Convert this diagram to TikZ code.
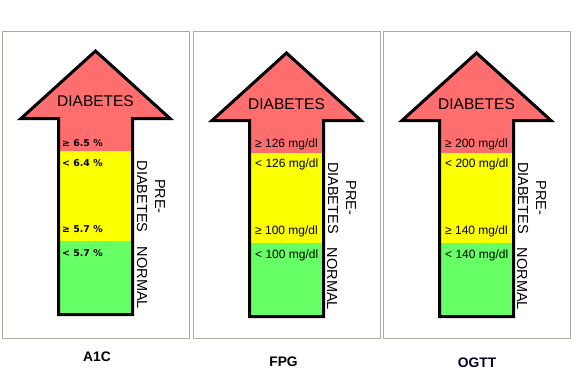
\documentclass[tikz,border=0pt]{standalone}
\usepackage{fontspec}
\setmainfont{Liberation Sans}
\newfontfamily\tahoma{DejaVu Sans}

\definecolor{diared}{RGB}{255,110,110}
\definecolor{diayellow}{RGB}{252,255,0}
\definecolor{diagreen}{RGB}{102,255,102}
\definecolor{panelgray}{RGB}{172,172,162}

\begin{document}
\begin{tikzpicture}[x=1pt, y=-1pt]
\tikzstyle{panel} = [draw=panelgray, line width=1pt]
\tikzstyle{outline} = [draw, line width=3pt, line join=miter]
\tikzstyle{big} = [font=\fontsize{15.5}{18}\selectfont, inner sep=0pt]
\tikzstyle{side} = [font=\fontsize{14.5}{18}\selectfont, rotate=-90,
    align=center, inner sep=0pt]
\tikzstyle{value} = [font=\fontsize{12}{14}\selectfont, anchor=west, inner sep=0pt]
\tikzstyle{pct} = [font=\tahoma\bfseries\fontsize{9.4}{11}\selectfont,
    anchor=west, inner sep=0pt]
\tikzstyle{test} = [font=\bfseries\fontsize{13.8}{16}\selectfont, inner sep=0pt]

 \useasboundingbox (0,0) rectangle (585,383);

 \foreach \c/\d in {95.5/-1, 286.5/1, 476.5/1} {
  \draw[panel] (\c-93.5,31.5) rectangle (\c+93.5,338);
  \fill[diared] (\c,52+\d) -- (\c+74.5,119.5+\d) -- (\c+37,119.5+\d)
     -- (\c+37,152+\d) -- (\c-37,152+\d) -- (\c-37,119.5+\d)
     -- (\c-74.5,119.5+\d) -- cycle;
  \fill[diayellow] (\c-37,152+\d) rectangle (\c+37,242+\d);
  \fill[diagreen] (\c-37,242+\d) rectangle (\c+37,315.5+\d);
  \draw[outline] (\c,52+\d) -- (\c+74.5,119.5+\d) -- (\c+37,119.5+\d)
     -- (\c+37,315.5+\d) -- (\c-37,315.5+\d) -- (\c-37,119.5+\d)
     -- (\c-74.5,119.5+\d) -- cycle;
 }

 % A1C
 \node[big] (a1cdiab) at (95.5,101) {DIABETES};
 \node[pct] (a1chigh) at (62,142.7) {≥ 6.5 \%};
 \node[pct] (a1cpretop) at (62,162.7) {< 6.4 \%};
 \node[pct] (a1cprelow) at (62,229.3) {≥ 5.7 \%};
 \node[pct] (a1cnorm) at (62,253.3) {< 5.7 \%};
 \node[side] (a1cpre) at (151,196.5) {PRE-\\DIABETES};
 \node[side] (a1cnormal) at (142,278) {NORMAL};
 \node[test] (a1c) at (97,357) {A1C};

 % FPG
 \node[big] (fpgdiab) at (286.5,104) {DIABETES};
 \node[value] (fpghigh) at (255,144) {≥ 126 mg/dl};
 \node[value] (fpgpretop) at (255,164) {< 126 mg/dl};
 \node[value] (fpgprelow) at (255,231) {≥ 100 mg/dl};
 \node[value] (fpgnorm) at (255,255) {< 100 mg/dl};
 \node[side] (fpgpre) at (342,198) {PRE-\\DIABETES};
 \node[side] (fpgnormal) at (332,279) {NORMAL};
 \node[test] (fpg) at (283.5,361.5) {FPG};

 % OGTT
 \node[big] (ogttdiab) at (476.5,104) {DIABETES};
 \node[value] (ogtthigh) at (445,144) {≥ 200 mg/dl};
 \node[value] (ogttpretop) at (445,164) {< 200 mg/dl};
 \node[value] (ogttprelow) at (445,231) {≥ 140 mg/dl};
 \node[value] (ogttnorm) at (445,255) {< 140 mg/dl};
 \node[side] (ogttpre) at (532,198) {PRE-\\DIABETES};
 \node[side] (ogttnormal) at (522,279) {NORMAL};
 \node[test, text=black!85!blue] (ogtt) at (477,363) {OGTT};
\end{tikzpicture}
\end{document}
